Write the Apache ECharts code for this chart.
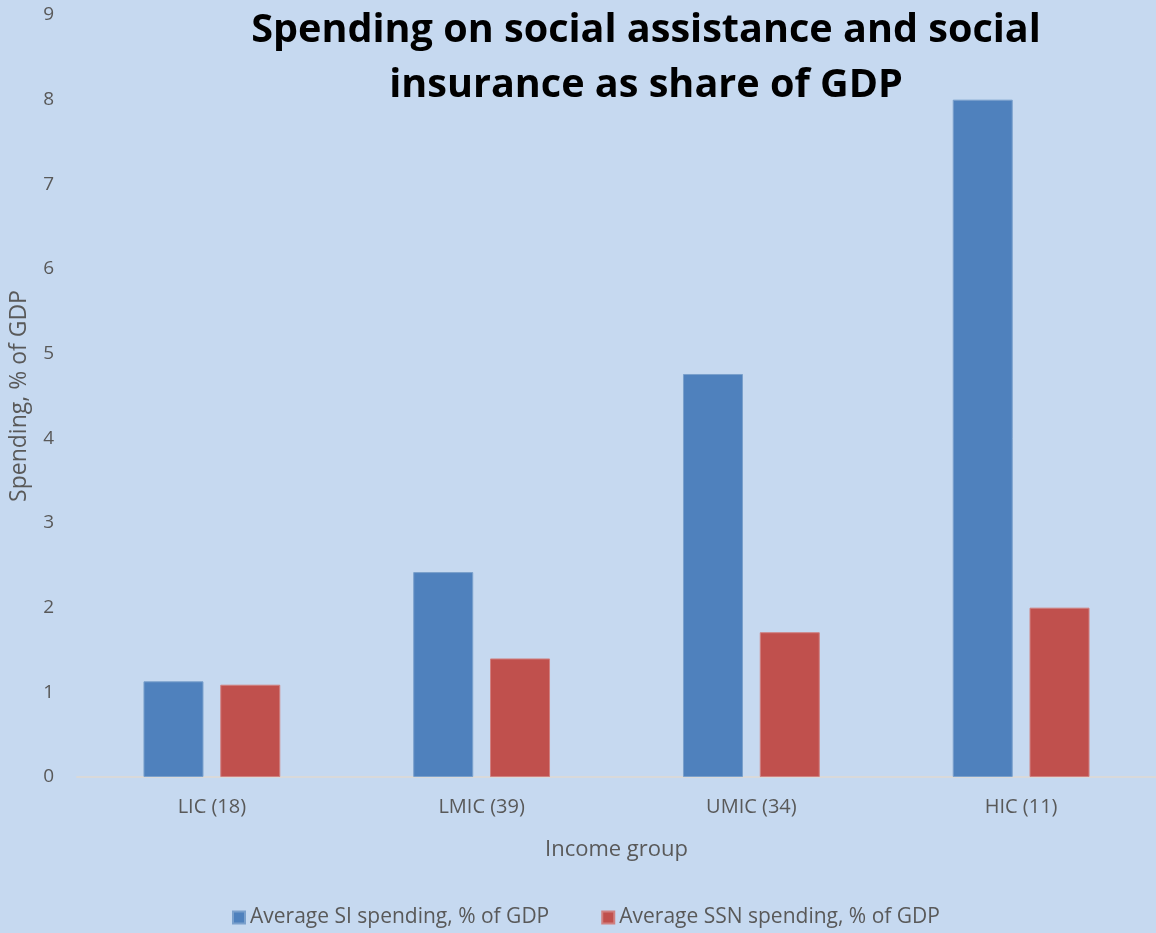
<!DOCTYPE html>
<html>
<head>
<meta charset="utf-8">
<script src="https://cdn.jsdelivr.net/npm/echarts@6/dist/echarts.min.js"></script>
<style>
  html, body { margin: 0; padding: 0; background: #c6d9f0; }
  #chart { width: 1156px; height: 933px; }
</style>
</head>
<body>
<div id="chart"></div>
<script>
const categories = ["LIC (18)", "LMIC (39)", "UMIC (34)", "HIC (11)"];
const siSpending = [1.13, 2.42, 4.76, 8.0];
const ssnSpending = [1.09, 1.40, 1.71, 2.0];
const seriesNames = ["Average SI spending, % of GDP", "Average SSN spending, % of GDP"];

const font = "'Open Sans', sans-serif";

const chart = echarts.init(document.getElementById("chart"));
chart.setOption({
  backgroundColor: "#c6d9f0",
  title: {
    text: "Spending on social assistance and social\ninsurance as share of GDP",
    left: 641,
    top: -2,
    textAlign: "center",
    textStyle: {
      fontFamily: font,
      fontSize: 39.6,
      fontWeight: "bold",
      color: "#000",
      lineHeight: 55
    }
  },
  legend: {
    bottom: 0,
    left: 227,
    itemWidth: 12,
    itemHeight: 12,
    itemGap: 52,
    icon: "rect",
    textStyle: { fontFamily: font, fontSize: 21, color: "#595959" },
    data: seriesNames
  },
  grid: { left: 77, right: 0, top: 15, bottom: 156, outerBoundsMode: "none" },
  xAxis: {
    type: "category",
    data: categories,
    name: "Income group",
    nameLocation: "middle",
    nameGap: 62,
    nameTextStyle: { fontFamily: font, fontSize: 22, color: "#595959" },
    axisLine: { lineStyle: { color: "#d9d9d9", width: 2 } },
    axisTick: { show: false },
    axisLabel: { fontFamily: font, fontSize: 20, color: "#595959", margin: 20 }
  },
  yAxis: {
    type: "value",
    min: 0,
    max: 9,
    interval: 1,
    name: "Spending, % of GDP",
    nameLocation: "middle",
    nameGap: 46,
    nameTextStyle: { fontFamily: font, fontSize: 23, color: "#595959" },
    splitLine: { show: false },
    axisLine: { show: false },
    axisTick: { show: false },
    axisLabel: { fontFamily: font, fontSize: 19, color: "#595959", margin: 23 }
  },
  series: [
    {
      name: seriesNames[0],
      type: "bar",
      data: siSpending,
      barWidth: 60,
      barGap: "28%",
      itemStyle: { color: "#4f81bd", borderColor: "#7aa0cc", borderWidth: 1 }
    },
    {
      name: seriesNames[1],
      type: "bar",
      data: ssnSpending,
      barWidth: 60,
      itemStyle: { color: "#c0504d", borderColor: "#d08080", borderWidth: 1 }
    }
  ]
});
</script>
</body>
</html>
